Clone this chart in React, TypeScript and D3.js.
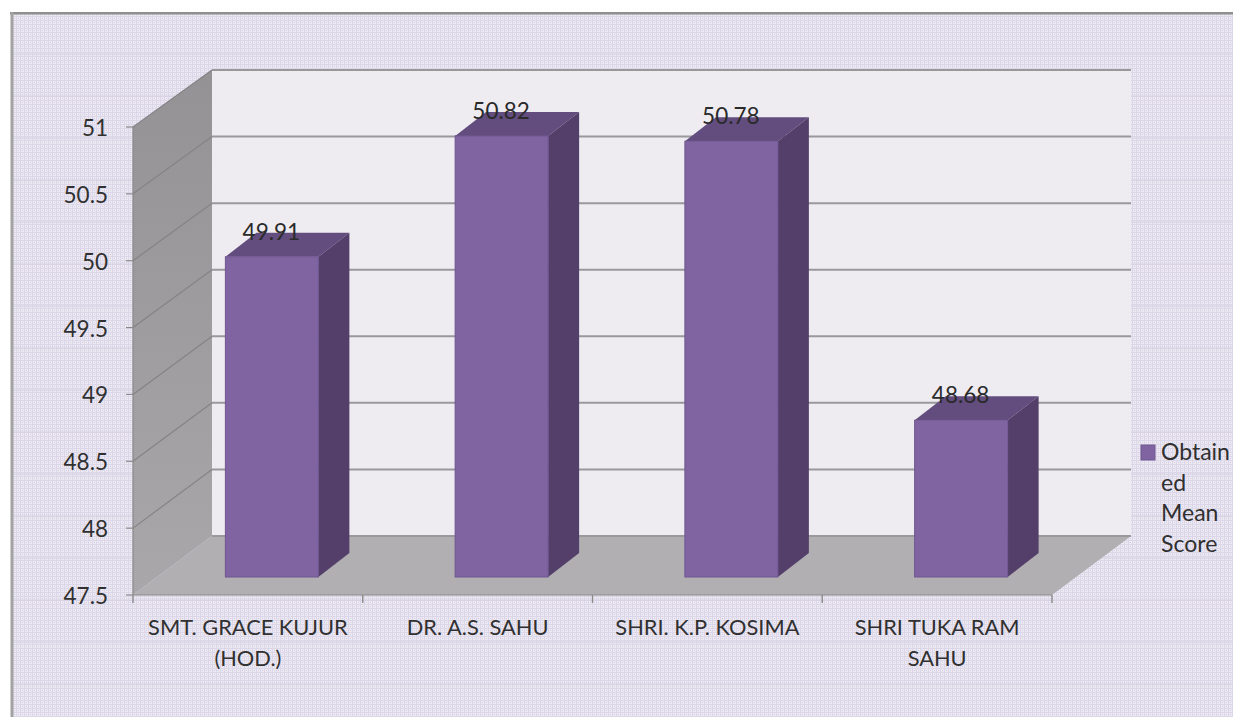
import React from "react";
import * as d3 from "d3";

const categories = [["SMT. GRACE KUJUR", "(HOD.)"], ["DR. A.S. SAHU"], ["SHRI. K.P. KOSIMA"], ["SHRI TUKA RAM", "SAHU"]];
const values = [49.91, 50.82, 50.78, 48.68];
const valueLabels = ["49.91", "50.82", "50.78", "48.68"];
const yTicks = [47.5, 48, 48.5, 49, 49.5, 50, 50.5, 51];
const yTickLabels = ["47.5", "48", "48.5", "49", "49.5", "50", "50.5", "51"];
const seriesName = ["Obtain", "ed", "Mean", "Score"];

const W = 1233, H = 717;
const font = "Lato, 'Open Sans', sans-serif";
const left = 133, right = 1052, top = 127, bottom = 595;
const depthX = 79, depthY = 59;

export default function App() {
  const y = d3.scaleLinear().domain([47.5, 51]).range([bottom, top]);
  const barY = d3.scaleLinear().domain([47.5, 51]).range([577, 112]);
  const x = d3.scaleBand<number>().domain(categories.map((_, i) => i)).range([left, right]);
  const ticksX = [0, 1, 2, 3].map((i) => x(i)!).concat(right);
  const poly = (p: number[][]) => d3.line()(p as [number, number][])! + "Z";
  const barW = 93, barDX = 31, barDY = 24;
  const backTop = top - depthY + 2;
  const backBottom = bottom - depthY;
  const backY = d3.scaleLinear().domain([47.5, 51]).range([backBottom, backTop]);
  const bandLines = d3.range(54, H, 42);
  return (
    <svg width={W} height={H} style={{ position: "fixed", left: 0, top: 0, display: "block" }}>
      <defs>
        <pattern id="bg" width={4} height={4} patternUnits="userSpaceOnUse">
          <rect width={4} height={4} fill="#ece9f3" />
          <rect x={0} y={0} width={4} height={1} fill="#dcd7e8" />
          <rect x={0} y={0} width={1} height={4} fill="#dcd7e8" />
          <rect x={2} y={2} width={1} height={1} fill="#d3cde1" />
        </pattern>
        <linearGradient id="wall" x1="0" x2="0" y1="0" y2="1">
          <stop offset="0" stopColor="#949295" />
          <stop offset="1" stopColor="#a9a7aa" />
        </linearGradient>
      </defs>
      <rect width={W} height={H} fill="#fff" />
      <rect x={12} y={14} width={W - 12} height={H - 14} fill="url(#bg)" />
      {bandLines.map((b) => (
        <line key={b} x1={12} x2={W} y1={b} y2={b} stroke="#cfc9dc" strokeWidth={1} opacity={0.6} />
      ))}
      <rect x={10} y={12} width={W - 10} height={2.5} fill="#8f8f8f" />
      <rect x={10.5} y={12} width={3} height={H - 12} fill="#a2a2a2" />

      {/* back wall */}
      <rect x={left + depthX} y={backTop} width={right - left} height={backBottom - backTop} fill="#eeecf1" />
      {/* side wall */}
      <path d={poly([[left, top], [left + depthX, backTop], [left + depthX, backBottom], [left, bottom]])} fill="url(#wall)" />
      {/* floor */}
      <path d={poly([[left, bottom], [left + depthX, backBottom], [right + depthX, backBottom], [right, bottom]])} fill="#b1afb2" />

      {/* grid */}
      {yTicks.map((t, i) => (
        <g key={t}>
          {t !== 47.5 && <path d={`M${left},${y(t)}L${left + depthX},${backY(t)}`} stroke="#858386" strokeWidth={1.2} fill="none" />}
          <line x1={left + depthX} x2={right + depthX} y1={backY(t)} y2={backY(t)} stroke="#9a989b" strokeWidth={2} />
          <line x1={left - 7} x2={left} y1={y(t)} y2={y(t)} stroke="#8a8a8a" strokeWidth={1.2} />
          <text x={108} y={y(t) + 9} textAnchor="end" fontFamily={font} fontSize={22.5} fill="#303030">
            {yTickLabels[i]}
          </text>
        </g>
      ))}
      {/* axes */}
      <line x1={left} x2={right} y1={bottom} y2={bottom} stroke="#8a8a8a" strokeWidth={1.2} />
      <line x1={left} x2={left} y1={top} y2={bottom} stroke="#8a8a8a" strokeWidth={1.2} />
      {ticksX.map((t) => (
        <line key={t} x1={t} x2={t} y1={bottom} y2={bottom + 8} stroke="#8a8a8a" strokeWidth={1.4} />
      ))}

      {/* bars */}
      {values.map((v, i) => {
        const bx = x(i)! + x.bandwidth() / 2 + 24 - barW / 2;
        const by = barY(v), b0 = barY(47.5);
        return (
          <g key={i}>
            <path d={poly([[bx, by], [bx + barDX, by - barDY], [bx + barW + barDX, by - barDY], [bx + barW, by]])} fill="#624d7e" />
            <path d={poly([[bx + barW, by], [bx + barW + barDX, by - barDY], [bx + barW + barDX, b0 - barDY], [bx + barW, b0]])} fill="#533f6a" />
            <rect x={bx} y={by} width={barW} height={b0 - by} fill="#8064a2" stroke="#6f5690" strokeWidth={1} />
            <text x={bx + barW / 2 - 0.5} y={by - 17} textAnchor="middle" fontFamily={font} fontSize={22.5} fill="#2a2a2a">
              {valueLabels[i]}
            </text>
          </g>
        );
      })}

      {/* category labels */}
      {categories.map((lines, i) => (
        <text key={i} textAnchor="middle" fontFamily={font} fontSize={21.8} fill="#303030">
          {lines.map((l, j) => (
            <tspan key={j} x={x(i)! + x.bandwidth() / 2} y={635 + j * 31}>{l}</tspan>
          ))}
        </text>
      ))}

      {/* legend */}
      <rect x={1141} y={445} width={14} height={15} fill="#8064a2" stroke="#6f5690" />
      <text fontFamily={font} fontSize={23} fill="#303030">
        {seriesName.map((l, j) => (
          <tspan key={j} x={1161} y={460 + j * 30.5}>{l}</tspan>
        ))}
      </text>
    </svg>
  );
}
